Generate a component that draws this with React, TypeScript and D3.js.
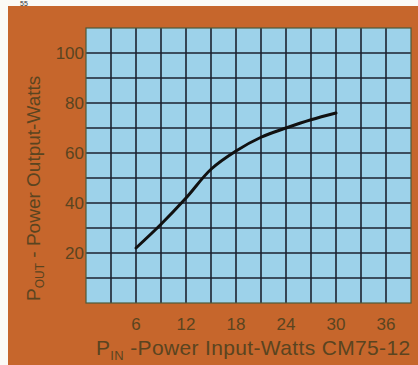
import React from "react";
import * as d3 from "d3";

const pin = [6, 9, 12, 15, 18, 21, 24, 27, 30];
const pout = [22, 31.5, 42, 53.5, 60.8, 66.3, 70, 73.3, 76];
const xTicks = [6, 12, 18, 24, 30, 36];
const yTicks = [20, 40, 60, 80, 100];
const xGrid = d3.range(3, 39, 3);
const yGrid = d3.range(10, 110, 10);

const W = 418;
const H = 365;
const left = 86;
const right = 411;
const top = 28;
const bottom = 303;

const ORANGE = "#c6662c";
const BLUE = "#9dd2ea";
const TEXT = "#5a4420";
const GRID = "#1c2230";

export default function App() {
  const x = d3.scaleLinear().domain([0, 39]).range([left, right]);
  const y = d3.scaleLinear().domain([0, 110]).range([bottom, top]);
  const line = d3
    .line<number>()
    .x((_, i) => x(pin[i]))
    .y((d) => y(d))
    .curve(d3.curveCatmullRom.alpha(0.5));
  const font = "'Liberation Sans', Arial, sans-serif";
  return (
    <div style={{ position: "absolute", left: 0, top: 0 }}>
      <svg width={W} height={H} style={{ display: "block" }}>
        <rect x={0} y={0} width={W} height={H} fill="#fbfaf6" />
        <text x={20} y={6} fontFamily={font} fontSize={7} fill="#333">55</text>
        <rect x={8} y={6} width={W - 8} height={H - 6} fill={ORANGE} />
        <rect x={left} y={top} width={right - left} height={bottom - top} fill={BLUE} />
        {xGrid.map((v) => (
          <line key={"x" + v} x1={x(v)} x2={x(v)} y1={top} y2={bottom} stroke={GRID} strokeWidth={1.6} />
        ))}
        {yGrid.map((v) => (
          <line key={"y" + v} x1={left} x2={right} y1={y(v)} y2={y(v)} stroke={GRID} strokeWidth={1.6} />
        ))}
        <rect x={left} y={top} width={right - left} height={bottom - top} fill="none" stroke="#4e5a3a" strokeWidth={1.2} />
        <path d={line(pout) || ""} fill="none" stroke="#111" strokeWidth={3} strokeLinecap="round" />
        {yTicks.map((v) => (
          <text key={"yt" + v} x={left - 2} y={y(v) + 6} textAnchor="end" fontFamily={font} fontSize={17} fill={TEXT}>
            {v}
          </text>
        ))}
        {xTicks.map((v) => (
          <text key={"xt" + v} x={x(v)} y={330} textAnchor="middle" fontFamily={font} fontSize={17} fill={TEXT}>
            {v}
          </text>
        ))}
        <text x={96} y={355} fontFamily={font} fontSize={21} letterSpacing={0.35} fill={TEXT}>
          P<tspan fontSize={13} dy={5}>IN</tspan>
          <tspan dy={-5}> -Power Input-Watts CM75-12</tspan>
        </text>
        <text transform={`translate(40,301) rotate(-90)`} fontFamily={font} fontSize={19} fill={TEXT}>
          P<tspan fontSize={12} dy={4}>OUT</tspan>
          <tspan dy={-4}> - Power Output-Watts</tspan>
        </text>
      </svg>
    </div>
  );
}
